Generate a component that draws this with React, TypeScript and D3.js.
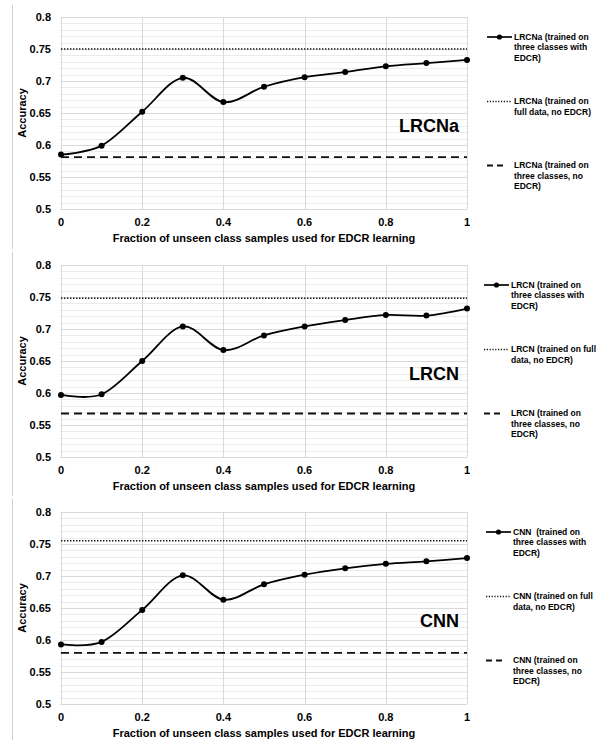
import { useEffect, useRef } from "react";
import * as d3 from "d3";

// fraction of unseen class samples used for EDCR learning
const fractions = [0, 0.1, 0.2, 0.3, 0.4, 0.5, 0.6, 0.7, 0.8, 0.9, 1];

const lrcnaEdcr = [0.585, 0.599, 0.652, 0.705, 0.667, 0.691, 0.706, 0.714, 0.723, 0.728, 0.733];
const lrcnEdcr = [0.597, 0.598, 0.65, 0.704, 0.667, 0.69, 0.704, 0.714, 0.722, 0.721, 0.732];
const cnnEdcr = [0.593, 0.597, 0.647, 0.701, 0.663, 0.687, 0.702, 0.712, 0.719, 0.723, 0.728];

const fullData = [0.75, 0.748, 0.755];
const threeClasses = [0.581, 0.568, 0.58];

const modelNames = ["LRCNa", "LRCN", "CNN"];

const legendSolid = [
  ["LRCNa (trained on", "three classes with", "EDCR)"],
  ["LRCN (trained on", "three classes with", "EDCR)"],
  ["CNN  (trained on", "three classes with", "EDCR)"],
];
const legendDotted = [
  ["LRCNa (trained on", "full data, no EDCR)"],
  ["LRCN (trained on full", "data, no EDCR)"],
  ["CNN (trained on full", "data, no EDCR)"],
];
const legendDashed = [
  ["LRCNa (trained on", "three classes, no", "EDCR)"],
  ["LRCN (trained on", "three classes, no", "EDCR)"],
  ["CNN (trained on", "three classes, no", "EDCR)"],
];

const xTicks = [0, 0.2, 0.4, 0.6, 0.8, 1];
const yTicks = [0.5, 0.55, 0.6, 0.65, 0.7, 0.75, 0.8];

export default function App() {
  const ref = useRef<SVGSVGElement>(null);

  useEffect(() => {
    const width = 606;
    const height = 740;
    const root = d3.select(ref.current);
    root.selectAll("*").remove();
    root.attr("width", width).attr("height", height);

    const font = "'Liberation Sans', Arial, sans-serif";
    const series = [lrcnaEdcr, lrcnEdcr, cnnEdcr];
    const panelTops = [17, 265, 512];
    const borders = [
      [5, 249],
      [252, 496],
      [499, 740],
    ];
    const legendX = [487, 484, 486];
    const plotH = 192;

    const x = d3.scaleLinear().domain([0, 1]).range([61, 467]);

    series.forEach((values, i) => {
      const top = panelTops[i];
      const y = d3.scaleLinear().domain([0.5, 0.8]).range([top + plotH, top]);
      const g = root.append("g").attr("font-family", font).attr("font-weight", "bold");

      // left border line of the panel
      g.append("line")
        .attr("x1", 12.5)
        .attr("x2", 12.5)
        .attr("y1", borders[i][0])
        .attr("y2", borders[i][1])
        .attr("stroke", "#d0d0d0")
        .attr("stroke-width", 1);

      // minor gridlines every 0.01
      const minor = d3.range(50, 81).map((v) => v / 100);
      g.selectAll(".minor")
        .data(minor)
        .join("line")
        .attr("x1", x(0) - 1)
        .attr("x2", x(1))
        .attr("y1", (d) => Math.round(y(d)) + 0.5)
        .attr("y2", (d) => Math.round(y(d)) + 0.5)
        .attr("stroke", "#ebebeb");

      // major gridlines
      g.selectAll(".hmajor")
        .data(yTicks)
        .join("line")
        .attr("x1", x(0))
        .attr("x2", x(1))
        .attr("y1", (d) => Math.round(y(d)) + 0.5)
        .attr("y2", (d) => Math.round(y(d)) + 0.5)
        .attr("stroke", "#d9d9d9");

      g.selectAll(".vmajor")
        .data(xTicks)
        .join("line")
        .attr("x1", (d) => Math.round(x(d)) + 0.5)
        .attr("x2", (d) => Math.round(x(d)) + 0.5)
        .attr("y1", y(0.8))
        .attr("y2", y(0.5))
        .attr("stroke", "#d9d9d9");

      // tick labels
      g.selectAll(".ylab")
        .data(yTicks)
        .join("text")
        .attr("x", 51)
        .attr("y", (d) => y(d))
        .attr("dy", "0.35em")
        .attr("text-anchor", "end")
        .attr("font-size", 11)
        .text((d) => String(+d.toFixed(2)));

      g.selectAll(".xlab")
        .data(xTicks)
        .join("text")
        .attr("x", (d) => x(d))
        .attr("y", y(0.5) + 17)
        .attr("text-anchor", "middle")
        .attr("font-size", 11)
        .text((d) => String(d));

      g.append("text")
        .attr("x", (x(0) + x(1)) / 2)
        .attr("y", y(0.5) + 33)
        .attr("text-anchor", "middle")
        .attr("font-size", 11)
        .text("Fraction of unseen class samples used for EDCR learning");

      g.append("text")
        .attr("transform", `translate(26,${(y(0.5) + y(0.8)) / 2}) rotate(-90)`)
        .attr("text-anchor", "middle")
        .attr("font-size", 11)
        .text("Accuracy");

      // reference lines
      g.append("line")
        .attr("x1", x(0))
        .attr("x2", x(1))
        .attr("y1", y(fullData[i]))
        .attr("y2", y(fullData[i]))
        .attr("stroke", "#111")
        .attr("stroke-width", 1.6)
        .attr("stroke-dasharray", "1.4 1.6");

      g.append("line")
        .attr("x1", x(0))
        .attr("x2", x(1))
        .attr("y1", y(threeClasses[i]))
        .attr("y2", y(threeClasses[i]))
        .attr("stroke", "#111")
        .attr("stroke-width", 1.8)
        .attr("stroke-dasharray", "8 5");

      // smoothed EDCR series
      const pts = fractions.map((f, k) => [f, values[k]] as [number, number]);
      const line = d3
        .line<[number, number]>()
        .x((d) => x(d[0]))
        .y((d) => y(d[1]))
        .curve(d3.curveCatmullRom.alpha(0));

      g.append("path")
        .datum(pts)
        .attr("fill", "none")
        .attr("stroke", "#000")
        .attr("stroke-width", 1.8)
        .attr("d", line);

      g.selectAll(".pt")
        .data(pts)
        .join("circle")
        .attr("cx", (d) => x(d[0]))
        .attr("cy", (d) => y(d[1]))
        .attr("r", 3)
        .attr("fill", "#000");

      // model name inside plot
      g.append("text")
        .attr("x", 459)
        .attr("y", y(0.63))
        .attr("dy", "0.35em")
        .attr("text-anchor", "end")
        .attr("font-size", 18)
        .text(modelNames[i]);

      // legend
      const lx = legendX[i];
      const groups = [
        { lines: legendSolid[i], off: 20, kind: "solid" },
        { lines: legendDotted[i], off: 84.5, kind: "dotted" },
        { lines: legendDashed[i], off: 148.5, kind: "dashed" },
      ];
      groups.forEach((grp) => {
        const ly = top + grp.off;
        const sym = g.append("line")
          .attr("x1", lx)
          .attr("x2", lx + 25)
          .attr("y1", ly)
          .attr("y2", ly)
          .attr("stroke", "#111");
        if (grp.kind === "solid") {
          sym.attr("stroke-width", 1.8);
          g.append("circle").attr("cx", lx + 12.5).attr("cy", ly).attr("r", 2.6).attr("fill", "#000");
        } else if (grp.kind === "dotted") {
          sym.attr("stroke-width", 1.3).attr("stroke-dasharray", "1.2 1.6");
        } else {
          sym.attr("x2", lx + 17).attr("stroke-width", 1.8).attr("stroke-dasharray", "6 4");
        }
        const t = g.append("text")
          .attr("x", lx + 27)
          .attr("y", ly)
          .attr("font-size", 8.5);
        grp.lines.forEach((s, k) => {
          t.append("tspan")
            .attr("x", lx + 27)
            .attr("dy", k === 0 ? "0.35em" : 10.5)
            .attr("xml:space", "preserve")
            .text(s);
        });
      });
    });
  }, []);

  return (
    <div style={{ position: "absolute", left: 0, top: 0 }}>
      <svg ref={ref} style={{ display: "block", background: "#fff" }}></svg>
    </div>
  );
}
